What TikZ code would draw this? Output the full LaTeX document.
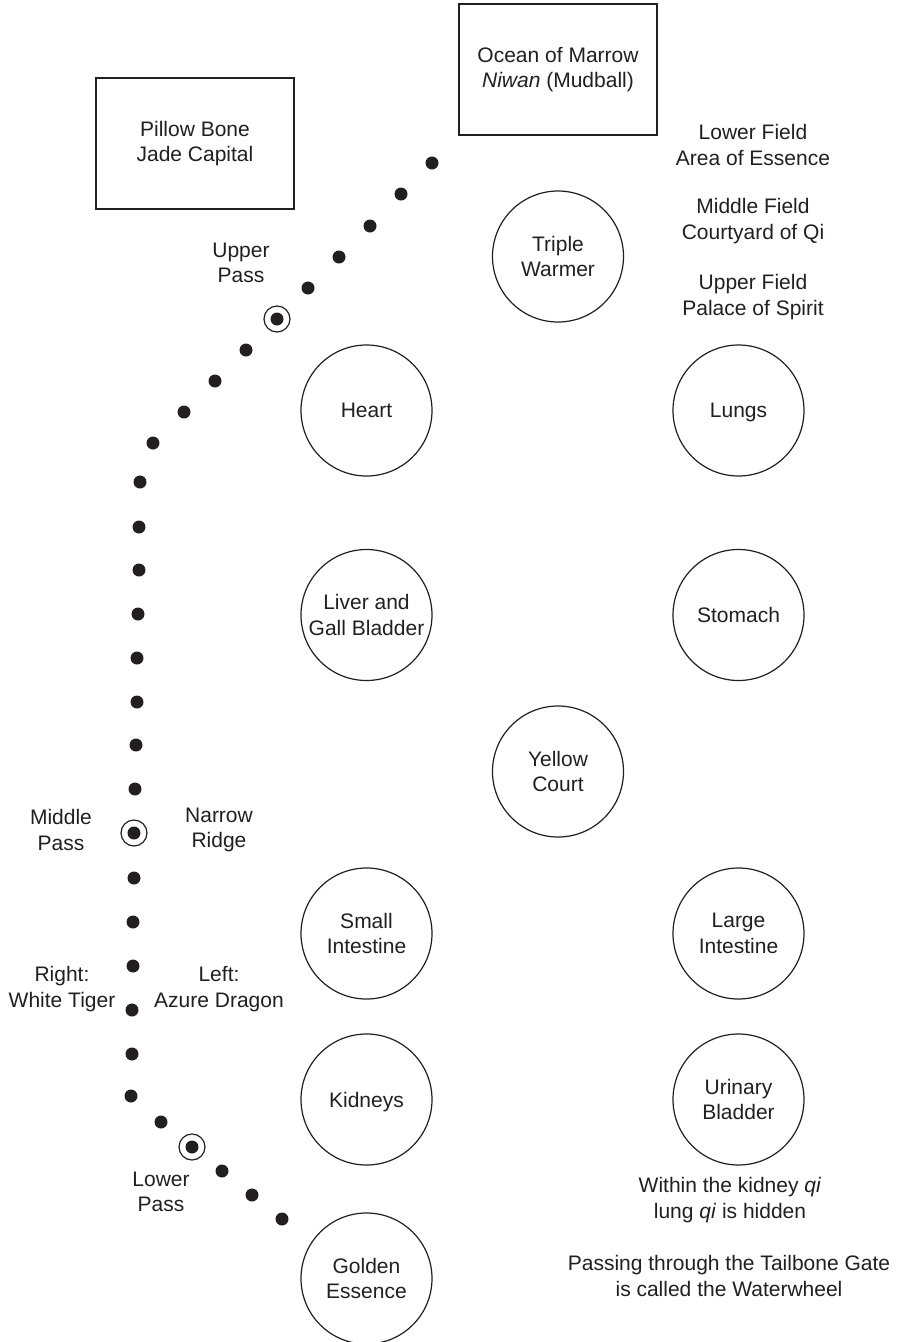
\documentclass[tikz,border=0pt]{standalone}
\usepackage{fontspec}
\setmainfont{Liberation Sans}
\definecolor{ink}{RGB}{35,31,32}
\begin{document}
\begin{tikzpicture}[x=1pt,y=-1pt,
  every node/.style={text=ink, font=\fontsize{21}{25.5}\selectfont, align=center},
  organ/.style={circle, draw=ink, line width=1.2pt, minimum size=131pt, inner sep=0pt},
  boxnode/.style={rectangle, draw=ink, line width=1.2pt, minimum width=198pt, minimum height=131pt, inner sep=0pt},
  dot/.style={circle, fill=ink, draw=none, minimum size=13pt, inner sep=0pt},
  passring/.style={circle, draw=ink, line width=1.2pt, minimum size=26pt, inner sep=0pt},
  lbl/.style={inner sep=0pt}]
\useasboundingbox[fill=white] (0,0) rectangle (900,1342);

% boxes
\node[boxnode] (pillow) at (195,143.5) {Pillow Bone\\Jade Capital};
\node[boxnode] (ocean) at (558,69.5) {Ocean of Marrow\\\textit{Niwan} (Mudball)};

% organs
\node[organ] (triple) at (558,256.5) {Triple\\Warmer};
\node[organ] (heart) at (366.5,410.5) {Heart};
\node[organ] (lungs) at (738.5,410.5) {\raisebox{0pt}[\height][0pt]{Lungs}};
\node[organ] (liver) at (366.5,615) {Liver and\\Gall Bladder};
\node[organ] (stomach) at (738.5,615) {Stomach};
\node[organ] (yellow) at (558,771.5) {Yellow\\Court};
\node[organ] (small) at (366.5,933.5) {Small\\Intestine};
\node[organ] (large) at (738.5,933.5) {Large\\Intestine};
\node[organ] (kidneys) at (366.5,1099.5) {\raisebox{0pt}[\height][0pt]{Kidneys}};
\node[organ] (bladder) at (738.5,1099.5) {Urinary\\Bladder};
\node[organ] (golden) at (366.5,1278.5) {Golden\\Essence};

% dotted path
\foreach \x/\y [count=\i] in {432/163,401/194,370/226,339/257,308/288,277/319,246/350,215/381,184/412,153/443,
  140/482,139/527,139/570,138/614,137/658,137/702,136/745,135/789,134/833,134/878,133/922,133/966,132/1010,132/1054,131/1096,
  161/1122,192/1147,222/1171,252/1195,282/1219}
  \node[dot] (d\i) at (\x,\y) {};

% pass rings
\node[passring] (upperring) at (d6) {};
\node[passring] (middlering) at (d19) {};
\node[passring] (lowerring) at (d27) {};

% labels
\node[lbl] (upper) at (241,263) {Upper\\Pass};
\node[lbl] (middle) at (61,830) {Middle\\Pass};
\node[lbl] (narrow) at (219,830) {Narrow\\Ridge};
\node[lbl] (right) at (62,989) {Right:\\White Tiger};
\node[lbl] (left) at (219,989) {Left:\\Azure Dragon};
\node[lbl] (lower) at (161,1192) {Lower\\Pass};

\node[lbl] (lowerfield) at (753,145) {Lower Field\\Area of Essence};
\node[lbl] (middlefield) at (753,221) {Middle Field\\Courtyard of Qi};
\node[lbl] (upperfield) at (753,297) {Upper Field\\Palace of Spirit};

\node[lbl] (within) at (730,1200) {Within the kidney \textit{qi}\\lung \textit{qi} is hidden};
\node[lbl] (passing) at (729,1276) {Passing through the Tailbone Gate\\is called the Waterwheel};
\end{tikzpicture}
\end{document}
